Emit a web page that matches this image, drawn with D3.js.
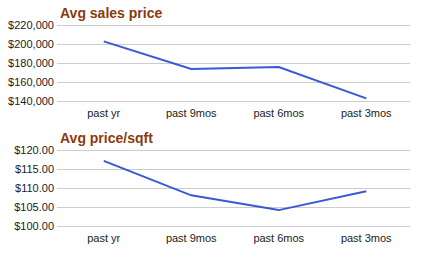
<!DOCTYPE html>
<html>
<head>
<meta charset="utf-8">
<script src="https://cdn.jsdelivr.net/npm/d3@7"></script>
<style>
  body { margin: 0; background: #fff; }
</style>
</head>
<body>
<div id="chart"></div>
<script>
var periods = ["past yr", "past 9mos", "past 6mos", "past 3mos"];
var salesPrice = [203000, 173800, 175800, 142800];
var pricePerSqft = [117.2, 108.1, 104.2, 109.2];
var salesTicks = [140000, 160000, 180000, 200000, 220000];
var sqftTicks = [100, 105, 110, 115, 120];

var svgWidth = 433;
var svgHeight = 257;
var font = "Liberation Sans, Arial, sans-serif";

var svg = d3.select("#chart")
    .append("svg")
    .attr("width", svgWidth)
    .attr("height", svgHeight);

// Un panel: titulo, rejilla, etiquetas y linea
function drawPanel(top, title, values, ticks, fmt) {
    var g = svg.append("g").attr("transform", `translate(0, ${top})`);

    var x = d3.scalePoint()
        .domain(periods)
        .range([60, 410])
        .padding(0.5);

    var y = d3.scaleLinear()
        .domain([ticks[0], ticks[ticks.length - 1]])
        .range([101, 25.3]);

    // gridlines
    g.selectAll(".grid")
        .data(ticks)
        .enter()
        .append("line")
        .attr("x1", 57)
        .attr("x2", 410)
        .attr("y1", d => Math.round(y(d)) + 0.5)
        .attr("y2", d => Math.round(y(d)) + 0.5)
        .attr("stroke", "#cccccc")
        .attr("stroke-width", 1);

    // y labels
    g.selectAll(".ylab")
        .data(ticks)
        .enter()
        .append("text")
        .attr("x", 54)
        .attr("y", d => y(d) + 4)
        .attr("text-anchor", "end")
        .attr("font-family", font)
        .attr("font-size", 11)
        .attr("fill", "#222")
        .text(fmt);

    // x labels
    g.selectAll(".xlab")
        .data(periods)
        .enter()
        .append("text")
        .attr("x", d => x(d))
        .attr("y", 117)
        .attr("text-anchor", "middle")
        .attr("font-family", font)
        .attr("font-size", 11)
        .attr("fill", "#222")
        .text(d => d);

    var line = d3.line()
        .x((d, i) => x(periods[i]))
        .y(d => y(d));

    g.append("path")
        .datum(values)
        .attr("d", line)
        .attr("fill", "none")
        .attr("stroke", "#3a57d6")
        .attr("stroke-width", 2);

    g.append("text")
        .attr("x", 60)
        .attr("y", 17.5)
        .attr("font-family", font)
        .attr("font-size", 14)
        .attr("font-weight", "bold")
        .attr("fill", "#8b3a0e")
        .text(title);
}

drawPanel(0, "Avg sales price", salesPrice, salesTicks, d => "$" + d3.format(",")(d));
drawPanel(125, "Avg price/sqft", pricePerSqft, sqftTicks, d => "$" + d3.format(".2f")(d));
</script>
</body>
</html>
